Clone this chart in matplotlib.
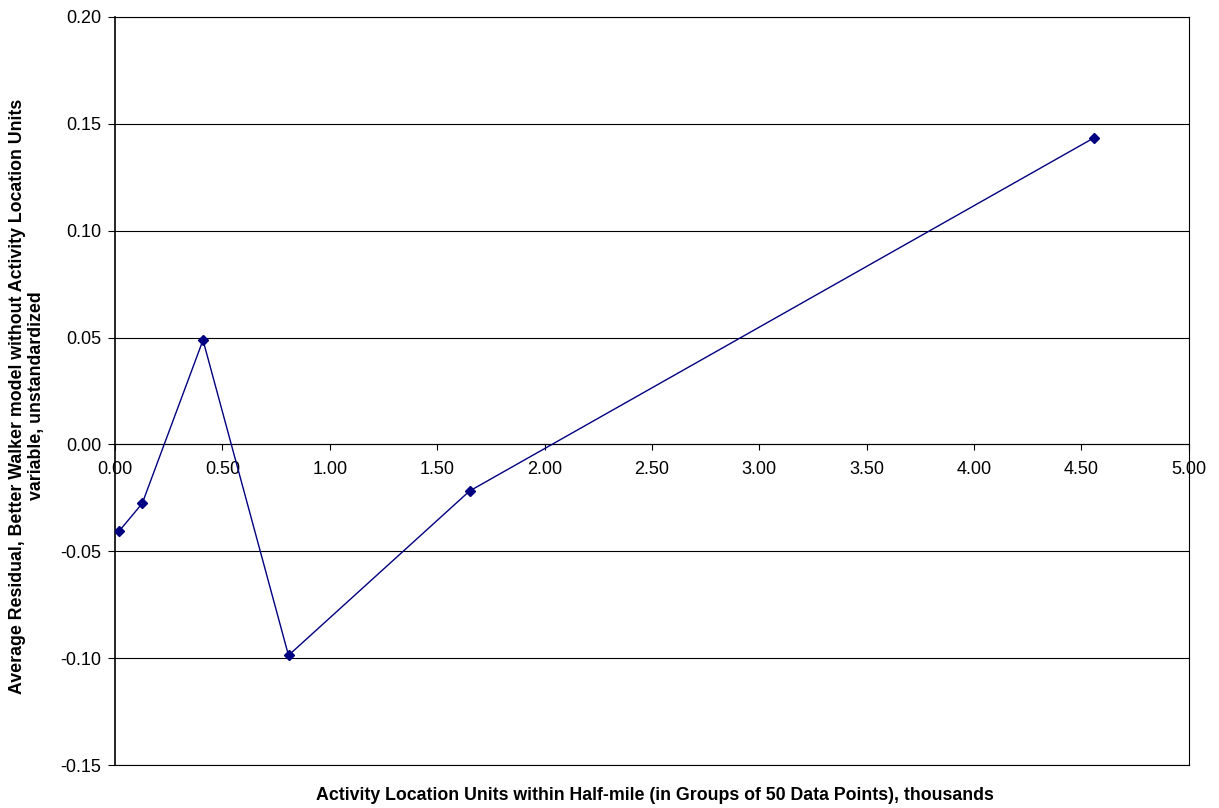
import matplotlib
matplotlib.use('Agg')
import matplotlib.pyplot as plt
import numpy as np

plt.rcParams['font.family'] = ['Liberation Sans', 'DejaVu Sans']

# Activity location units (thousands) and average residual
x_units = [0.020, 0.127, 0.410, 0.808, 1.651, 4.559]
avg_resid = [-0.0405, -0.0276, 0.0488, -0.0987, -0.0218, 0.1435]

x_ticks = np.arange(0, 5.01, 0.5)
y_ticks = np.arange(-0.15, 0.201, 0.05)

fig = plt.figure(figsize=(12.19, 8.08), dpi=100)
ax = fig.add_axes([0.0943, 0.0532, 0.881, 0.9258])

ax.plot(x_units, avg_resid, color='#000080', lw=1.0, marker='D', ms=5.5,
        mfc='#000080', mec='#000080', zorder=3)

# x axis crosses at zero (set before ticks, it resets them)
ax.spines['bottom'].set_position(('data', 0))
ax.spines['bottom'].set_linewidth(0.8)
ax.spines['left'].set_linewidth(1.2)
ax.spines['right'].set_linewidth(0.8)
ax.spines['top'].set_linewidth(0.8)

ax.set_xlim(0, 5)
ax.set_ylim(-0.15, 0.20)
ax.set_xticks(x_ticks)
ax.set_yticks(y_ticks)
ax.set_xticklabels(['%.2f' % v for v in x_ticks])
ax.set_yticklabels(['%.2f' % v for v in y_ticks])
ax.tick_params(axis='x', direction='out', length=4, width=0.8, pad=8, labelsize=13)
ax.tick_params(axis='y', direction='out', length=5, width=0.8, pad=5, labelsize=13)

# y gridlines in black, like the Excel original
ax.yaxis.grid(True, color='black', lw=0.8)
ax.set_axisbelow(True)
ax.axhline(-0.15, color='black', lw=0.8, clip_on=False)

fig.text(655 / 1219, 1 - 795 / 808,
         'Activity Location Units within Half-mile (in Groups of 50 Data Points), thousands',
         fontsize=12.8, fontweight='bold', ha='center', va='center')
fig.text(27 / 1219, 1 - 396 / 808,
         'Average Residual, Better Walker model without Activity Location Units\nvariable, unstandardized',
         fontsize=12.8, fontweight='bold', ha='center', va='center',
         rotation=90, linespacing=1.2, multialignment='center')

fig.savefig('out.png', dpi=100)
